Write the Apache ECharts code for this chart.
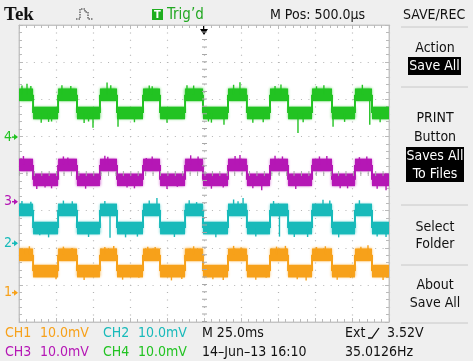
<!DOCTYPE html>
<html>
<head>
<meta charset="utf-8">
<script src="https://cdn.jsdelivr.net/npm/echarts@6/dist/echarts.min.js"></script>
<style>
  html, body { margin: 0; padding: 0; background: #efefef; }
  #chart { width: 473px; height: 361px; }
</style>
</head>
<body>
<div id="chart"></div>
<script>
// time in ms (25 ms/div), amplitude in divisions above the bottom graticule line
const risingEdges = [26.4, 54.7, 83.8, 112.2, 141.2, 169.6, 198.0, 227.0];
const fallingEdges = [9.5, 39.2, 66.2, 95.3, 124.3, 154.0, 181.8, 211.5, 238.5];

// [low, high] of each trace
const ch1Levels = [1.37, 1.81];
const ch2Levels = [2.53, 3.02];
const ch3Levels = [3.83, 4.23];
const ch4Levels = [5.63, 6.12];

// ground markers on the left edge
const groundLabels = ['1', '2', '3', '4'];
const groundLevels = [0.79, 2.12, 3.24, 4.98];

// noise spikes [time, tip]
const ch1Spikes = [
  [4, 1.98], [7, 2.04], [17.6, 1.22], [25, 1.15], [30, 2.03], [36, 1.99], [44, 1.13], [50, 1.27], [58, 2.02],
  [64, 2.05], [70, 1.14], [81, 1.19], [87, 2.03], [92, 2.02], [103, 1.12], [110, 1.16], [118, 2.04], [131, 1.15],
  [138, 1.13], [145, 2.05], [150, 2.01], [160, 1.14], [167, 1.19], [174, 2.03], [180, 2.05], [188, 1.15], [194, 1.12],
  [201, 2.02], [207, 2.04], [215, 1.14], [224, 1.19], [231, 2.03], [235.8, 2.07], [246, 1.13]
];
const ch2Spikes = [
  [2, 3.26], [8, 3.24], [14, 2.34], [20, 2.28], [30, 3.27], [36, 3.25], [47, 2.29], [58, 3.26], [61.5, 2.27],
  [72, 2.28], [80, 2.3], [88, 3.27], [93.2, 3.34], [105, 2.29], [115, 3.28], [120, 3.23], [133, 2.28], [145, 3.3],
  [148, 3.25], [151.4, 3.34], [160, 2.3], [172, 3.26], [176, 2.3], [186, 2.29], [195, 2.29], [205.4, 3.29],
  [210, 3.27], [216, 2.28], [230, 3.28], [242, 2.3], [245, 2.38], [248, 2.29]
];
const ch3Spikes = [
  [3, 4.47], [12, 3.58], [17.6, 3.62], [22, 3.6], [30, 4.46], [33, 4.43], [45, 3.59], [58, 4.48], [60, 4.45],
  [73, 3.62], [78, 3.6], [86, 4.42], [90, 4.46], [100, 3.58], [107, 3.64], [116, 4.49], [121, 4.46], [130, 3.59],
  [138, 3.62], [146, 4.47], [149.3, 4.5], [158, 3.6], [164, 3.55], [173, 4.48], [178, 4.46], [187, 3.58],
  [203, 4.46], [208, 4.47], [217, 3.6], [222, 3.6], [230, 4.44], [235, 4.46], [242, 3.59], [248, 3.55]
];
const ch4Spikes = [
  [2, 6.37], [5.4, 6.42], [8, 6.36], [15, 5.37], [20, 5.39], [22, 5.4], [29, 6.38], [35, 6.36], [44, 5.36], [47, 5.4],
  [50, 5.23], [59.5, 6.45], [62, 6.38], [66.9, 5.26], [78, 5.38], [88, 6.37], [90, 6.35], [100, 5.37], [113.5, 6.38],
  [118, 6.37], [128, 5.4], [130, 5.37], [138.5, 5.31], [145, 6.39], [149.3, 6.46], [158, 5.37], [165, 5.38], [173, 6.36],
  [177, 6.4], [188.5, 5.09], [192, 5.38], [201, 6.35], [206, 6.38], [212.2, 5.26], [220, 5.39], [232, 6.39], [237, 5.31],
  [244, 5.38]
];

const FONT = '"Liberation Sans Narrow", "DejaVu Sans Condensed", "Liberation Sans", sans-serif';
const colors = { ch1: '#f7a11a', ch2: '#18baba', ch3: '#b517b5', ch4: '#22c322' };
const BAND = 0.17;

function buildSegments(levels) {
  const events = [];
  fallingEdges.forEach(t => events.push([t, 0]));
  risingEdges.forEach(t => events.push([t, 1]));
  events.sort((a, b) => a[0] - b[0]);
  const segs = [];
  let state = 1, t0 = 0;
  events.forEach(([t, s]) => {
    segs.push([t0, t, levels[state], levels[s]]);
    t0 = t;
    state = s;
  });
  segs.push([t0, 250, levels[state], '-']);
  return segs;
}

function spikeData(spikes, segs) {
  return spikes.map(([t, tip]) => {
    const seg = segs.find(s => t >= s[0] && t <= s[1]);
    return [t, seg[2], tip];
  });
}

function bandSeries(name, segs, color) {
  return {
    name: name,
    type: 'custom',
    clip: true,
    encode: { x: [0, 1], y: [2] },
    data: segs,
    renderItem: (params, api) => {
      const t0 = api.value(0), t1 = api.value(1), v = api.value(2), vn = api.value(3);
      const p0 = api.coord([t0, v + BAND]);
      const p1 = api.coord([t1, v - BAND]);
      const children = [{
        type: 'rect',
        shape: { x: p0[0], y: p0[1], width: p1[0] - p0[0], height: p1[1] - p0[1] },
        style: { fill: color, shadowBlur: 3, shadowColor: color }
      }];
      if (!isNaN(vn)) {
        const a = api.coord([t1, v]);
        const b = api.coord([t1, vn]);
        children.push({
          type: 'line',
          shape: { x1: a[0], y1: a[1], x2: b[0], y2: b[1] },
          style: { stroke: color, lineWidth: 2 }
        });
      }
      return { type: 'group', children: children };
    }
  };
}

function spikeSeries(name, data, color) {
  return {
    name: name,
    type: 'custom',
    clip: true,
    encode: { x: 0, y: [1, 2] },
    data: data,
    renderItem: (params, api) => {
      const a = api.coord([api.value(0), api.value(1)]);
      const b = api.coord([api.value(0), api.value(2)]);
      return {
        type: 'line',
        shape: { x1: a[0], y1: a[1], x2: b[0], y2: b[1] },
        style: { stroke: color, lineWidth: 1.4 }
      };
    }
  };
}

const traces = [
  ['CH1', ch1Levels, ch1Spikes, colors.ch1],
  ['CH2', ch2Levels, ch2Spikes, colors.ch2],
  ['CH3', ch3Levels, ch3Spikes, colors.ch3],
  ['CH4', ch4Levels, ch4Spikes, colors.ch4]
];

const series = [];
traces.forEach(([name, levels, spikes, color]) => {
  const segs = buildSegments(levels);
  series.push(bandSeries(name, segs, color));
  series.push(spikeSeries(name + ' noise', spikeData(spikes, segs), color));
});

// center cross with tick marks
series[0].markLine = {
  silent: true,
  symbol: 'none',
  label: { show: false },
  lineStyle: { color: '#a8a8a8', width: 5, type: [1, 6.42] },
  data: [{ xAxis: 125 }, { yAxis: 4 }]
};

const borderAxis = {
  min: 0,
  axisLine: { show: true, onZero: false, lineStyle: { color: '#c4c4c4' } },
  axisTick: { show: true, inside: true, length: 4, lineStyle: { color: '#bababa' } },
  minorTick: { show: true, splitNumber: 5, length: 3, lineStyle: { color: '#bababa' } },
  axisLabel: { show: false },
  splitLine: { show: false }
};
const gridLine = { show: true, lineStyle: { color: '#b4b4b4', width: 1.2, type: [1, 6.42] } };

const chart = echarts.init(document.getElementById('chart'));
chart.setOption({
  backgroundColor: '#efefef',
  animation: false,
  grid: { left: 19, top: 25, width: 370, height: 297, show: true, backgroundColor: '#ffffff', borderColor: '#c8c8c8', borderWidth: 1 },
  xAxis: [
    Object.assign({}, borderAxis, { type: 'value', position: 'bottom', max: 250, interval: 25, splitLine: gridLine }),
    Object.assign({}, borderAxis, { type: 'value', position: 'top', max: 250, interval: 25 })
  ],
  yAxis: [
    Object.assign({}, borderAxis, { type: 'value', position: 'left', max: 8, interval: 1, splitLine: gridLine }),
    Object.assign({}, borderAxis, { type: 'value', position: 'right', max: 8, interval: 1 })
  ],
  series: series
});

// screen chrome
const g = [];
function txt(x, y, text, color, size, extra) {
  g.push({
    type: 'text', x: x, y: y, silent: true,
    style: Object.assign({ text: text, fill: color, font: size + 'px ' + FONT, verticalAlign: 'middle' }, extra || {})
  });
}
function inverse(cx, y, w, text) {
  g.push({ type: 'rect', shape: { x: cx - w / 2, y: y - 9, width: w, height: 18 }, style: { fill: '#000' } });
  txt(cx, y, text, '#fff', 14, { align: 'center' });
}
function sep(y) {
  g.push({ type: 'line', shape: { x1: 401, y1: y, x2: 468, y2: y }, style: { stroke: '#c8c8c8', lineWidth: 1 } });
}

// top bar
g.push({ type: 'text', x: 4, y: 15, style: { text: 'Tek', fill: '#111', font: 'bold 19px "Liberation Serif", serif', verticalAlign: 'middle' } });
g.push({ type: 'polyline', shape: { points: [[76, 19], [80, 19], [80, 9], [85, 9], [85, 12], [88, 12], [88, 19], [93, 19]] }, style: { stroke: '#222', lineWidth: 1, fill: null, lineDash: [1.5, 1] } });
g.push({ type: 'rect', shape: { x: 152, y: 9, width: 11, height: 11 }, style: { fill: '#1fae1f' } });
txt(157.5, 15, 'T', '#fff', 11, { align: 'center', font: 'bold 11px ' + FONT });
txt(167, 15, 'Trig\u2019d', '#22a822', 15);
txt(270, 15, 'M Pos: 500.0\u00b5s', '#111', 14);
txt(403, 15, 'SAVE/REC', '#111', 14);
sep(27);

// side menu
txt(435, 48, 'Action', '#111', 14, { align: 'center' });
inverse(434.5, 66, 53, 'Save All');
sep(87);
txt(435, 118, 'PRINT', '#111', 14, { align: 'center' });
txt(435, 137, 'Button', '#111', 14, { align: 'center' });
g.push({ type: 'rect', shape: { x: 406, y: 147, width: 58, height: 35 }, style: { fill: '#000' } });
txt(435, 156, 'Saves All', '#fff', 14, { align: 'center' });
txt(435, 174, 'To Files', '#fff', 14, { align: 'center' });
sep(205);
txt(435, 227, 'Select', '#111', 14, { align: 'center' });
txt(435, 244, 'Folder', '#111', 14, { align: 'center' });
sep(265);
txt(435, 285, 'About', '#111', 14, { align: 'center' });
txt(435, 303, 'Save All', '#111', 14, { align: 'center' });
sep(323);

// bottom readout
txt(5, 333, 'CH1', colors.ch1, 14);
txt(40, 333, '10.0mV', colors.ch1, 14);
txt(103, 333, 'CH2', colors.ch2, 14);
txt(138, 333, '10.0mV', colors.ch2, 14);
txt(202, 333, 'M 25.0ms', '#111', 14);
txt(345, 333, 'Ext', '#111', 14);
g.push({ type: 'polyline', shape: { points: [[368, 338], [372, 338], [379, 328]] }, style: { stroke: '#111', lineWidth: 1.3, fill: null } });
txt(387, 333, '3.52V', '#111', 14);
txt(5, 352, 'CH3', colors.ch3, 14);
txt(40, 352, '10.0mV', colors.ch3, 14);
txt(103, 352, 'CH4', colors.ch4, 14);
txt(138, 352, '10.0mV', colors.ch4, 14);
txt(202, 352, '14\u2013Jun\u201313 16:10', '#111', 14);
txt(345, 352, '35.0126Hz', '#111', 14);

// ground markers
const groundColors = [colors.ch1, colors.ch2, colors.ch3, colors.ch4];
groundLevels.forEach((v, i) => {
  const y = chart.convertToPixel({ yAxisIndex: 0 }, v);
  txt(4, y, groundLabels[i], groundColors[i], 14);
  g.push({ type: 'line', shape: { x1: 12, y1: y, x2: 17, y2: y }, style: { stroke: groundColors[i], lineWidth: 1.5 } });
  g.push({ type: 'polygon', shape: { points: [[14, y - 3], [18, y], [14, y + 3]] }, style: { fill: groundColors[i] } });
});

// trigger position marker
const tx = chart.convertToPixel({ xAxisIndex: 0 }, 125);
g.push({ type: 'polygon', shape: { points: [[tx - 4, 29], [tx + 4, 29], [tx, 35]] }, style: { fill: '#000' } });
g.push({ type: 'line', shape: { x1: tx, y1: 25, x2: tx, y2: 30 }, style: { stroke: '#000', lineWidth: 2 } });

chart.setOption({ graphic: g });
</script>
</body>
</html>
